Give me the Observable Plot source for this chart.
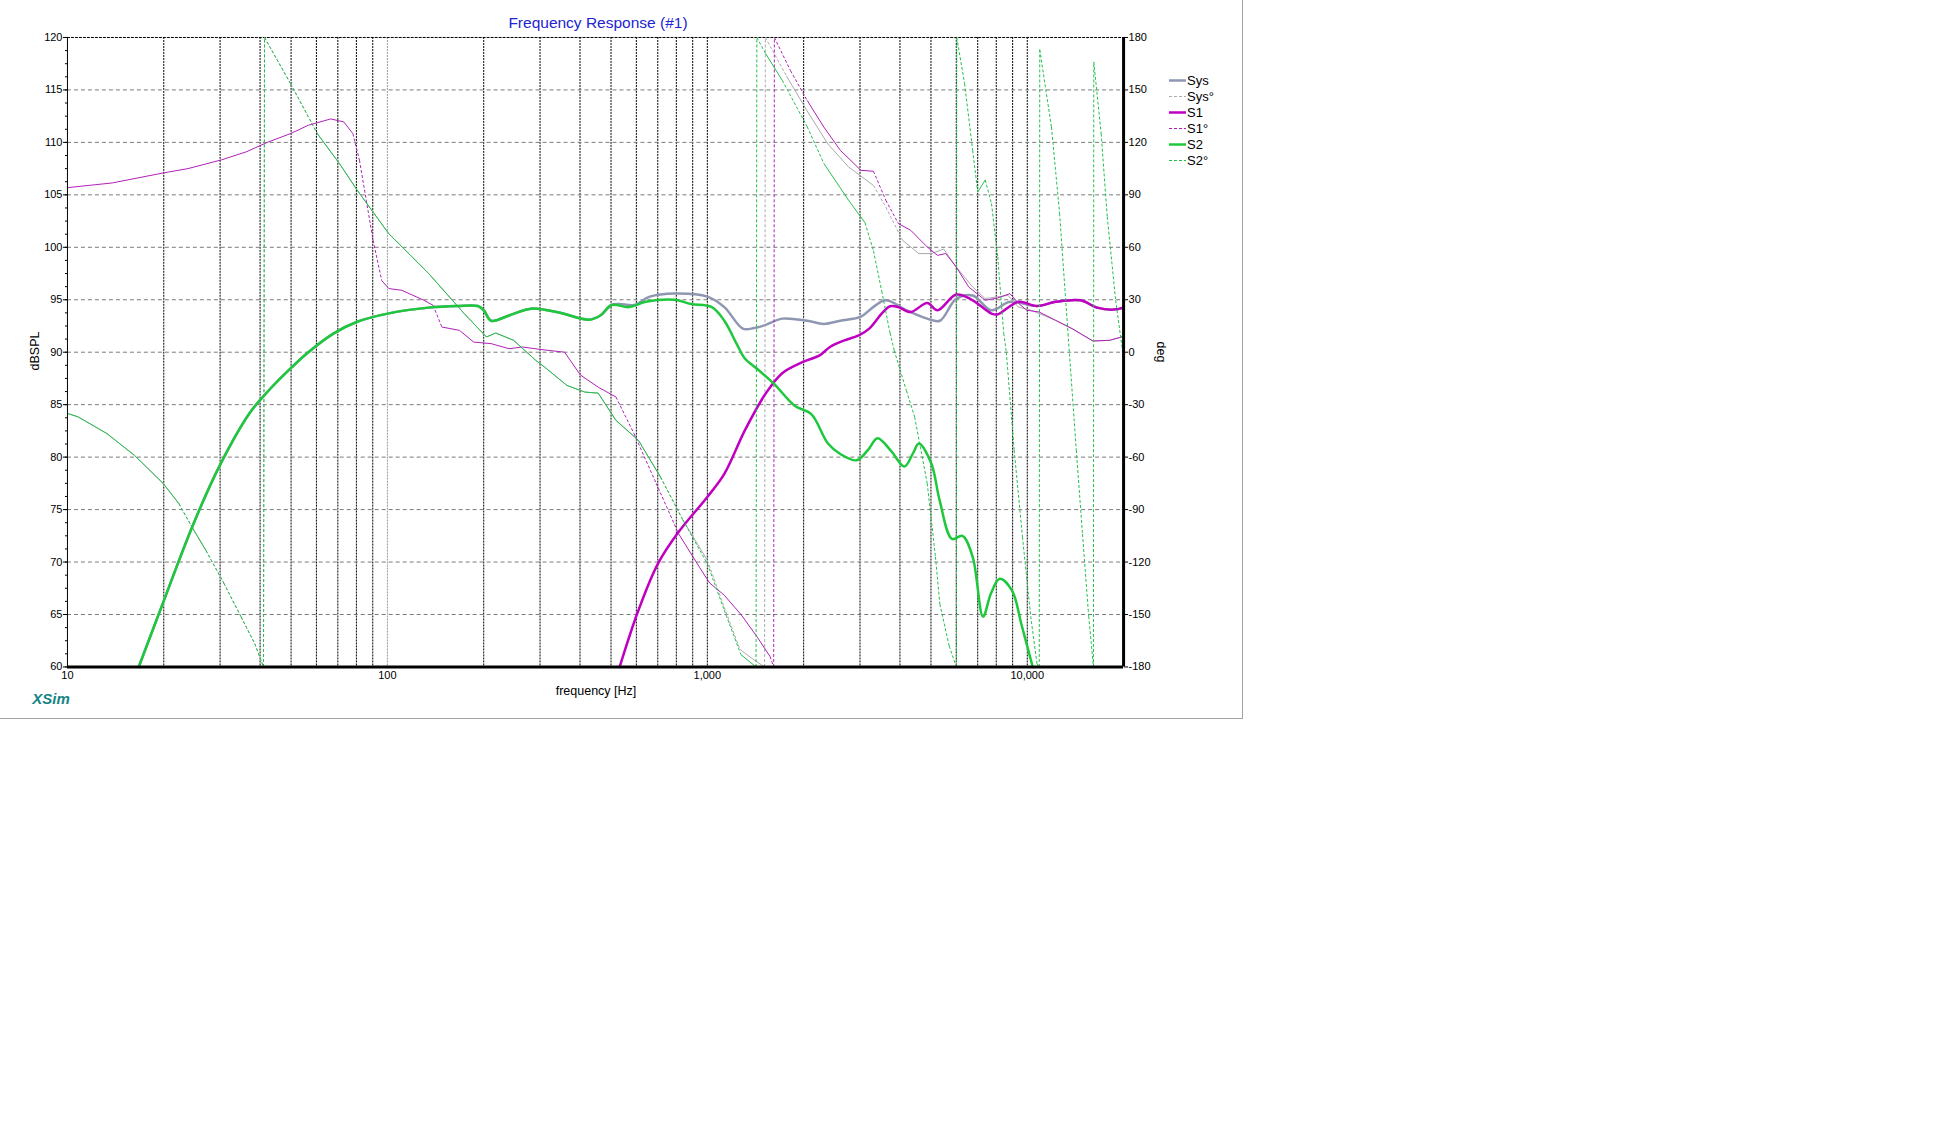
<!DOCTYPE html>
<html>
<head>
<meta charset="utf-8">
<script src="https://cdn.jsdelivr.net/npm/d3@7"></script>
<script src="https://cdn.jsdelivr.net/npm/@observablehq/plot@0.6"></script>
<style>
  html, body { margin: 0; padding: 0; background: #fff; }
  body { font-family: Arial, "Liberation Sans", sans-serif; width: 1943px; height: 1125px; position: relative; overflow: hidden; }
  #card { position: absolute; left: 0; top: 0; width: 1242px; height: 718px; background: #fff;
          border-right: 1px solid #a4a4a4; border-bottom: 1px solid #a4a4a4; }
  #chart { position: absolute; left: 0; top: 0; }
  .abs { position: absolute; white-space: nowrap; }
  #title { left: 398px; width: 400px; top: 14px; text-align: center; font-size: 15.5px; line-height: 18px; color: #2323d2; }
  #ylab { left: 35px; top: 351px; font-size: 12.5px; transform: translate(-50%, -50%) rotate(-90deg); color: #000; }
  #y2lab { left: 1161px; top: 352px; font-size: 12.5px; transform: translate(-50%, -50%) rotate(90deg); color: #000; }
  #xlab { left: 596px; top: 691px; font-size: 12.5px; transform: translate(-50%, -50%); color: #000; }
  #brand { left: 51px; top: 698px; font-size: 15px; font-weight: bold; font-style: italic; transform: translate(-50%, -50%); color: #168484; }
  #legend { left: 1169px; top: 72px; font-size: 13px; color: #000; }
  .row { height: 16px; display: flex; align-items: center; }
  .row svg { margin-right: 1px; }
</style>
</head>
<body>
<div id="card">
  <div id="chart"></div>
  <div id="title" class="abs">Frequency Response (#1)</div>
  <div id="ylab" class="abs">dBSPL</div>
  <div id="y2lab" class="abs">deg</div>
  <div id="xlab" class="abs">frequency [Hz]</div>
  <div id="brand" class="abs">XSim</div>
  <div id="legend" class="abs"></div>
</div>
<script>
// ---------------- data ----------------
// S2 magnitude (dBSPL)
const s2Freq = [16.7, 20, 24.5, 29.8, 37.3, 42.4, 50, 56.6, 68, 80.5, 101, 134.6, 165, 191.7, 200, 211, 240, 281, 341, 427, 463, 502, 569, 641, 790, 889, 1033, 1130, 1235, 1310, 1432, 1614, 1875, 2113, 2383, 2603, 2931, 3180, 3404, 3750, 4131, 4400, 4583, 5013, 5320, 5818, 6270, 6750, 7273, 7700, 8200, 8955, 9600, 10400];
const s2Db   = [60, 66.3, 73.3, 79.1, 84.3, 86.3, 88.5, 90.0, 91.8, 92.9, 93.7, 94.25, 94.4, 94.4, 94.0, 93.0, 93.5, 94.15, 93.8, 93.1, 93.5, 94.5, 94.3, 94.8, 95.0, 94.6, 94.3, 93.0, 90.8, 89.4, 88.4, 87.0, 84.9, 84.1, 81.3, 80.3, 79.7, 80.7, 81.8, 80.6, 79.1, 80.4, 81.3, 79.4, 75.9, 72.2, 72.5, 70.5, 64.8, 67.0, 68.4, 67.3, 64.0, 60];

// S1 magnitude (dBSPL)
const s1Freq = [532, 609, 701, 815, 1000, 1130, 1310, 1521, 1714, 1989, 2244, 2417, 2683, 2974, 3206, 3508, 3724, 3954, 4324, 4867, 5240, 6000, 6750, 7727, 8070, 9380, 10720, 12270, 14670, 16520, 18600, 20000];
const s1Db   = [60, 65.4, 69.85, 72.9, 76.2, 78.4, 82.55, 86.05, 88.0, 89.07, 89.7, 90.5, 91.13, 91.6, 92.25, 93.68, 94.38, 94.3, 93.83, 94.7, 94.0, 95.5, 94.95, 93.68, 93.6, 94.8, 94.4, 94.8, 94.95, 94.25, 94.06, 94.25];

// Sys magnitude (dBSPL)
const sysFreq = [16.7, 20, 24.5, 29.8, 37.3, 42.4, 50, 56.6, 68, 80.5, 101, 134.6, 165, 191.7, 200, 211, 240, 281, 341, 427, 463, 502, 530, 590, 661, 790, 1000, 1130, 1291, 1400, 1521, 1714, 2051, 2312, 2603, 3020, 3300, 3613, 4190, 4867, 5330, 5998, 6750, 7727, 8830, 10720, 12270, 14670, 16520, 18600, 20000];
const sysDb   = [60, 66.3, 73.3, 79.1, 84.3, 86.3, 88.5, 90.0, 91.8, 92.9, 93.7, 94.25, 94.4, 94.4, 94.0, 93.0, 93.5, 94.15, 93.8, 93.1, 93.5, 94.5, 94.6, 94.5, 95.3, 95.6, 95.3, 94.3, 92.25, 92.3, 92.6, 93.2, 93.0, 92.7, 93.0, 93.4, 94.3, 94.95, 94.0, 93.2, 93.0, 95.1, 95.4, 94.0, 94.8, 94.4, 94.8, 94.95, 94.25, 94.06, 94.25];

// S2 phase (deg)
const s2PhFreq = [10, 10.8, 13.3, 16.2, 19.9, 22.3, 24.5, 27.1, 30.8, 34.9, 38.5, 41, 41.3, 49.8, 60.4, 70.8, 80.5, 101, 134.6, 174, 204, 218, 248, 291, 310, 364, 414, 456, 518, 609, 714, 839, 948, 1000, 1130, 1274, 1420, 1428, 1521, 1714, 2051, 2312, 2762, 3112, 3305, 3508, 3724, 3838, 4190, 4446, 4867, 5164, 5330, 5700, 6000, 6020, 6370, 6750, 7000, 7390, 7730, 8085, 8440, 8600, 9100, 9660, 10250, 10720, 10900, 10940, 11900, 12620, 13410, 14230, 14880, 15560, 16100, 16140, 17020, 17780, 18890, 20000];
const s2PhDeg  = [-35, -37, -46.6, -59, -75, -86.6, -100, -113.4, -132, -151.4, -166.7, -180, 180, 153.6, 125, 107.9, 92.6, 67.8, 45, 22, 8.7, 11, 6.8, -4.7, -8.5, -19, -22.8, -23.4, -39, -50.4, -71.4, -96, -113.4, -121, -147.6, -173, -180, 180, 170.8, 155.5, 129, 108, 87, 74, 58, 35, 11, 1, -22, -37, -75, -117, -144, -168, -180, 180, 153.6, 115.5, 91.6, 98.5, 85, 54.5, 10.8, 0, -56, -105.6, -151, -178, -180, 173, 128.8, 79.4, 10.6, -56, -104, -151, -180, 166, 125, 77.5, 29.7, -3.6];

// S1 phase (deg)
const s1PhFreq = [10, 13.8, 19.9, 23.8, 30.3, 36.1, 42.4, 49.8, 56.6, 66.5, 73.1, 78, 81.8, 85.9, 90.2, 96, 101, 111, 130, 139, 148, 168, 186, 211, 240, 264, 300, 358, 401, 456, 518, 590, 692, 813, 945, 1017, 1130, 1274, 1432, 1570, 1612, 1620, 1820, 2051, 2312, 2603, 3020, 3305, 3613, 3954, 4324, 4867, 5240, 5560, 6000, 6560, 7390, 8070, 8830, 9380, 9960, 10890, 12270, 13800, 16040, 18070, 20000];
const s1PhDeg  = [94.1, 96.8, 102.5, 105, 110, 114.5, 120.2, 125, 129.8, 133.4, 131.7, 125, 109.8, 86.9, 64, 41, 36.4, 35.4, 29.7, 26.8, 14.4, 12.5, 5.8, 4.9, 2, 3, 1.6, 0, -13, -20, -25.6, -46.6, -75, -103.8, -123, -132, -139, -150, -162.9, -174, -180, 180, 161, 144, 128.8, 115.5, 104, 103.5, 86.9, 73.6, 69.7, 60.2, 55.4, 56.4, 48.7, 37.3, 29.7, 31, 33.5, 28, 24, 23, 18.2, 13.5, 6.4, 6.8, 9];

// Sys phase (deg)
const sysPhFreq = [10, 10.8, 13.3, 16.2, 19.9, 22.3, 24.5, 27.1, 30.8, 34.9, 38.5, 41, 41.3, 49.8, 60.4, 70.8, 80.5, 101, 134.6, 174, 204, 218, 248, 291, 310, 364, 414, 456, 518, 609, 714, 839, 948, 1000, 1130, 1265, 1400, 1510, 1518, 1767, 2051, 2383, 2762, 3305, 3613, 4076, 4583, 5013, 5480, 6000, 6750, 7390, 8710, 9380, 10280, 12270, 13800, 16040, 18070, 20000];
const sysPhDeg  = [-35, -37, -46.6, -59, -75, -86.6, -100, -113.4, -132, -151.4, -166.7, -180, 180, 153.6, 125, 107.9, 92.6, 67.8, 45, 22, 8.7, 11, 6.8, -4.7, -8.5, -19, -22.8, -23.4, -39, -50.4, -71.4, -96, -112, -119, -146, -170, -176, -180, 180, 158, 138, 119, 106, 95.4, 83, 64, 56.4, 56.4, 59, 48.7, 37.3, 30.7, 32.5, 25.8, 24, 18.2, 13.5, 6.4, 6.8, 9];

// axis ticks
const xLabelTicks = [10, 100, 1000, 10000];
const gridFreqs = [20, 30, 40, 50, 60, 70, 80, 90, 200, 300, 400, 500, 600, 700, 800, 900, 1000, 2000, 3000, 4000, 5000, 6000, 7000, 8000, 9000, 10000];
const gridFreqsLight = [100];
const dbTicks = [60, 65, 70, 75, 80, 85, 90, 95, 100, 105, 110, 115, 120];
const dbMinorTicks = d3.range(60, 120.001, 1.25);
const dbGrid = [65, 70, 75, 80, 85, 90, 95, 100, 105, 110, 115];

// series styles / legend
const series = [
  {name: "Sys",  color: "#8e96b2", phase: false},
  {name: "Sys°", color: "#a9a9b0", phase: true},
  {name: "S1",   color: "#c000c0", phase: false},
  {name: "S1°",  color: "#b020b8", phase: true},
  {name: "S2",   color: "#1ec83c", phase: false},
  {name: "S2°",  color: "#22c04a", phase: true}
];

// ---------------- helpers ----------------
const degToDb = d => 90 + d / 6;          // right axis: -180..180 deg  <->  60..120 dB
const dbToDeg = v => (v - 90) * 6;
const STEEP = 320;                         // deg per decade above which a segment is drawn dashed

function magData(f, v) { return f.map((x, i) => ({f: x, v: v[i]})); }
function phaseSegs(f, d) {
  const out = [];
  for (let i = 1; i < f.length; i++) {
    const dec = Math.log10(f[i] / f[i - 1]);
    const dd = Math.abs(d[i] - d[i - 1]);
    out.push({x1: f[i - 1], x2: f[i], y1: degToDb(d[i - 1]), y2: degToDb(d[i]), steep: dd > STEEP * dec});
  }
  return out;
}
function phaseMarks(f, d, color) {
  const segs = phaseSegs(f, d);
  return [
    Plot.link(segs.filter(s => !s.steep), {x1: "x1", x2: "x2", y1: "y1", y2: "y2", stroke: color, strokeWidth: 1}),
    Plot.link(segs.filter(s => s.steep), {x1: "x1", x2: "x2", y1: "y1", y2: "y2", stroke: color, strokeWidth: 1, strokeDasharray: "3,2"})
  ];
}

const chart = Plot.plot({
  width: 1243,
  height: 719,
  marginLeft: 67,
  marginRight: 119,
  marginTop: 37,
  marginBottom: 52,
  x: {type: "log", domain: [10, 20000]},
  y: {domain: [60, 120]},
  style: {fontFamily: "Arial, 'Liberation Sans', sans-serif", fontSize: "11px", background: "transparent", color: "#000", overflow: "visible"},
  marks: [
    Plot.ruleX(gridFreqs, {stroke: "#000", strokeWidth: 1, strokeDasharray: "2,1"}),
    Plot.ruleX(gridFreqsLight, {stroke: "#9a9a9a", strokeWidth: 1, strokeDasharray: "2,1"}),
    Plot.ruleY(dbGrid, {stroke: "#7a7a7a", strokeWidth: 1, strokeDasharray: "4,3"}),
    Plot.ruleY([120], {stroke: "#000", strokeWidth: 1, strokeDasharray: "3,1"}),

    Plot.line(magData(sysFreq, sysDb), {x: "f", y: "v", stroke: series[0].color, strokeWidth: 2.5, curve: "catmull-rom"}),
    ...phaseMarks(sysPhFreq, sysPhDeg, series[1].color),
    Plot.line(magData(s1Freq, s1Db), {x: "f", y: "v", stroke: series[2].color, strokeWidth: 2.5, curve: "catmull-rom"}),
    ...phaseMarks(s1PhFreq, s1PhDeg, series[3].color),
    Plot.line(magData(s2Freq, s2Db), {x: "f", y: "v", stroke: series[4].color, strokeWidth: 2.5, curve: "catmull-rom"}),
    ...phaseMarks(s2PhFreq, s2PhDeg, series[5].color),

    Plot.ruleX([10], {stroke: "#000", strokeWidth: 1}),
    Plot.ruleX([20000], {stroke: "#000", strokeWidth: 3}),
    Plot.ruleY([60], {stroke: "#000", strokeWidth: 3}),

    Plot.axisX({ticks: xLabelTicks, tickFormat: d3.format(","), tickSize: 0, tickPadding: 4, label: null, fill: "#000"}),
    Plot.axisY({anchor: "left", ticks: dbTicks, tickSize: 4, tickPadding: 1, label: null, fill: "#000", stroke: "#000"}),
    Plot.axisY({anchor: "left", ticks: dbMinorTicks, tickSize: 2, tickFormat: () => "", label: null, stroke: "#000"}),
    Plot.axisY({anchor: "right", ticks: dbTicks, tickSize: 4, tickPadding: 1, tickFormat: v => String(dbToDeg(v)), label: null, fill: "#000", stroke: "#000"})
  ]
});
document.getElementById("chart").appendChild(chart);

// legend
const legend = d3.select("#legend");
series.forEach(s => {
  const row = legend.append("div").attr("class", "row");
  const svg = row.append("svg").attr("width", 17).attr("height", 10);
  svg.append("line").attr("x1", 0).attr("x2", 17).attr("y1", 5.5).attr("y2", 5.5)
    .attr("stroke", s.color)
    .attr("stroke-width", s.phase ? 1 : 2.5)
    .attr("stroke-dasharray", s.phase ? "3,2" : null);
  row.append("span").text(s.name);
});
</script>
</body>
</html>
